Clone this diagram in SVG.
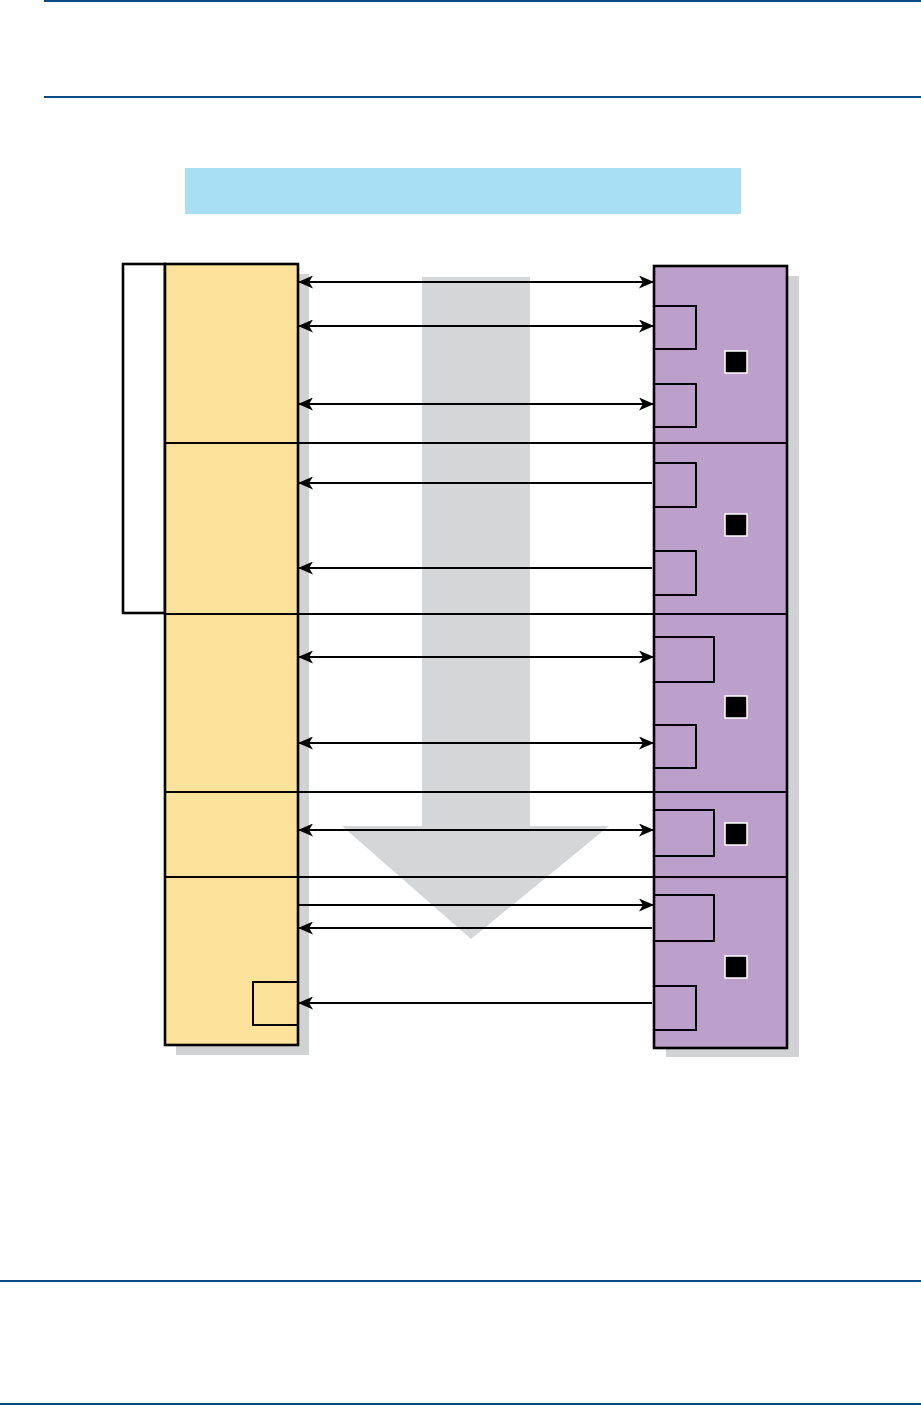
<svg xmlns="http://www.w3.org/2000/svg" width="921" height="1405" viewBox="0 0 921 1405">
<style>
.rule{stroke:#064a82;stroke-width:1.8;fill:none}
.shadow{fill:#d1d2d4}
.col{stroke:#000;stroke-width:2.6}
.sep{stroke:#000;stroke-width:1.8;fill:none}
.sub{fill:none;stroke:#000;stroke-width:2}
.dot{fill:#000;stroke:#fff;stroke-width:1.5}
.conn{stroke:#000;stroke-width:2;fill:none}
</style>
<defs>
<marker id="ah" viewBox="0 0 15 13" refX="14" refY="6.5" markerWidth="15" markerHeight="13" markerUnits="userSpaceOnUse" orient="auto-start-reverse">
<path d="M0,0 L15,6.5 L0,13 L4,6.5 z" fill="#000"/>
</marker>
</defs>
<rect width="921" height="1405" fill="#fff"/>
<g id="rules">
<line class="rule" x1="44" y1="1" x2="921" y2="1"/>
<line class="rule" x1="44" y1="97" x2="921" y2="97"/>
<line class="rule" x1="0" y1="1281" x2="921" y2="1281"/>
<line class="rule" x1="0" y1="1404" x2="921" y2="1404"/>
</g>
<g id="banner"><rect x="185" y="168" width="556" height="46" fill="#a8dff5"/></g>
<g id="flow-arrow"><path d="M422,277 H530 V826 H609 L471,939 L342,826 H422 Z" fill="#d5d6d8"/></g>
<g id="bracket"><rect x="123" y="264" width="42" height="349" fill="#fff" class="col"/></g>
<g id="left-column">
<rect class="shadow" x="176" y="274" width="133" height="781"/>
<rect x="165" y="264" width="133" height="781" fill="#fde29c" class="col"/>
<rect class="sub" x="253" y="982" width="45" height="43"/>
</g>
<g id="right-column">
<rect class="shadow" x="666" y="276" width="133" height="781"/>
<rect x="654" y="266" width="133" height="782" fill="#bd9fcb" class="col"/>
<path class="sub" d="M654,306 H696 V349 H654 M654,384 H696 V427 H654 M654,463 H696 V507 H654 M654,551 H696 V595 H654 M654,637 H714 V682 H654 M654,725 H696 V768 H654 M654,810 H714 V856 H654 M654,895 H714 V941 H654 M654,986 H696 V1030 H654"/>
<rect class="dot" x="725" y="351" width="22" height="22"/>
<rect class="dot" x="725" y="514" width="22" height="22"/>
<rect class="dot" x="725" y="696" width="22" height="22"/>
<rect class="dot" x="725" y="823" width="22" height="22"/>
<rect class="dot" x="725" y="956" width="22" height="22"/>
</g>
<g id="separators">
<line class="sep" x1="165" y1="443" x2="787" y2="443"/>
<line class="sep" x1="165" y1="614" x2="787" y2="614"/>
<line class="sep" x1="165" y1="792" x2="787" y2="792"/>
<line class="sep" x1="165" y1="877" x2="787" y2="877"/>
</g>
<g id="connectors">
<line class="conn" x1="299" y1="282" x2="653" y2="282" marker-start="url(#ah)" marker-end="url(#ah)"/>
<line class="conn" x1="299" y1="326" x2="653" y2="326" marker-start="url(#ah)" marker-end="url(#ah)"/>
<line class="conn" x1="299" y1="404" x2="653" y2="404" marker-start="url(#ah)" marker-end="url(#ah)"/>
<line class="conn" x1="652" y1="483" x2="299" y2="483" marker-end="url(#ah)"/>
<line class="conn" x1="652" y1="568" x2="299" y2="568" marker-end="url(#ah)"/>
<line class="conn" x1="299" y1="657" x2="653" y2="657" marker-start="url(#ah)" marker-end="url(#ah)"/>
<line class="conn" x1="299" y1="743" x2="653" y2="743" marker-start="url(#ah)" marker-end="url(#ah)"/>
<line class="conn" x1="299" y1="830" x2="653" y2="830" marker-start="url(#ah)" marker-end="url(#ah)"/>
<line class="conn" x1="299" y1="905" x2="653" y2="905" marker-end="url(#ah)"/>
<line class="conn" x1="652" y1="928" x2="299" y2="928" marker-end="url(#ah)"/>
<line class="conn" x1="652" y1="1003" x2="299" y2="1003" marker-end="url(#ah)"/>
</g>
</svg>
